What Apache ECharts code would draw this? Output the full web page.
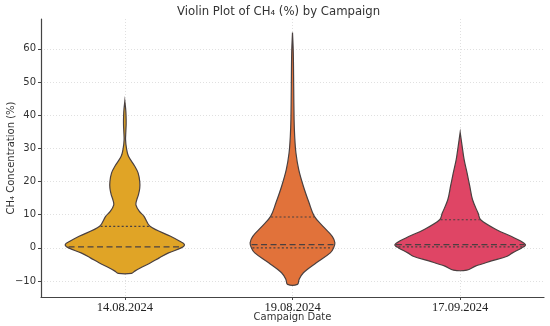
<!DOCTYPE html>
<html><head><meta charset="utf-8">
<script src="https://cdn.jsdelivr.net/npm/echarts@6/dist/echarts.min.js"></script>
<style>html,body{margin:0;padding:0;background:#fff}#c{width:550px;height:326px}</style>
</head><body><div id="c"></div>
<script>
const categories = ['14.08.2024', '19.08.2024', '17.09.2024'];
const yTicks = [-10, 0, 10, 20, 30, 40, 50, 60];

// Violin profiles: CH4 value (%) and relative kernel density
const v1Values  = [44.2, 42, 40, 37.6, 35, 32.6, 30, 27.6, 24.6, 22.6, 20, 18, 16, 14.5, 13, 11, 9.5, 6.5, 3.5, 2, 1.0, 0, -1.5, -3, -4.5, -6, -7.0, -7.7];
const v1Density = [0, 0.012, 0.018, 0.02, 0.015, 0.011, 0.025, 0.055, 0.15, 0.2, 0.225, 0.225, 0.205, 0.18, 0.167, 0.22, 0.29, 0.38, 0.69, 0.83, 0.9, 0.85, 0.66, 0.52, 0.39, 0.24, 0.15, 0.1];

const v2Values  = [64.9, 58.7, 48.7, 38.6, 33.6, 28.6, 23.6, 18.6, 13.6, 9.5, 6.5, 3.5, 1.5, 0, -1.5, -4.5, -7.5, -9.5, -11];
const v2Density = [0, 0.012, 0.018, 0.024, 0.033, 0.052, 0.094, 0.164, 0.25, 0.33, 0.46, 0.6, 0.64, 0.62, 0.57, 0.36, 0.165, 0.1, 0.075];

const v3Values  = [34.8, 30.6, 26.6, 22.6, 18.6, 14.5, 10.5, 8.5, 5.5, 3.0, 1.0, 0, -1.5, -2.5, -4.0, -5.5, -6.7];
const v3Density = [0, 0.03, 0.06, 0.104, 0.145, 0.187, 0.27, 0.31, 0.55, 0.82, 0.985, 0.93, 0.79, 0.71, 0.46, 0.23, 0.1];

const q1Values     = [null, 0.0, 0.3];
const medianValues = [0.3, 1.0, 1.0];
const q3Values     = [6.5, 9.3, 8.5];

const fillColors = ['#E0A426', '#E1723A', '#DF4565'];

const profVals = [v1Values, v2Values, v3Values];
const profDens = [v1Density, v2Density, v3Density];

function densAt(vals, dens, q) {
  for (let j = 0; j < vals.length - 1; j++) {
    const a = vals[j], b = vals[j + 1];
    if ((q <= a && q >= b)) {
      const t = (a - q) / (a - b);
      return dens[j] + t * (dens[j + 1] - dens[j]);
    }
  }
  return 0;
}

function renderItem(params, api) {
  const i = api.value(0);
  const vals = profVals[i], dens = profDens[i];
  const band = api.size([1, 0])[0];
  const k = band * 0.395;
  const right = [], left = [];
  for (let j = 0; j < vals.length; j++) {
    const c = api.coord([i, vals[j]]);
    right.push([c[0] + dens[j] * k, c[1]]);
    left.push([c[0] - dens[j] * k, c[1]]);
  }
  const pts = right.concat(left.reverse());
  const children = [{
    type: 'polygon',
    shape: { points: pts, smooth: 0.35 },
    style: { fill: fillColors[i], stroke: '#4a4040', lineWidth: 1.2 }
  }];
  const lineDefs = [
    [q1Values[i], [2, 2.2]],
    [q3Values[i], [2, 2.2]],
    [medianValues[i], [6, 3.5]]
  ];
  lineDefs.forEach(function (d) {
    if (d[0] === null) return;
    const c = api.coord([i, d[0]]);
    const h = densAt(vals, dens, d[0]) * k - 1;
    children.push({
      type: 'line',
      shape: { x1: c[0] - h, y1: c[1], x2: c[0] + h, y2: c[1] },
      style: { stroke: '#4a4040', lineWidth: 1.1, lineDash: d[1] }
    });
  });
  return { type: 'group', children: children };
}

const chart = echarts.init(document.getElementById('c'), null, { renderer: 'canvas' });
chart.setOption({
  backgroundColor: '#fff',
  animation: false,
  title: {
    text: 'Violin Plot of CH\u2084 (%) by Campaign',
    left: 172, top: 1,
    textStyle: { fontFamily: 'DejaVu Sans', fontSize: 11.7, fontWeight: 'normal', color: '#333' }
  },
  grid: { left: 41, right: 6, top: 19, bottom: 29, containLabel: false, outerBoundsMode: 'none' },
  xAxis: {
    type: 'value', min: -0.5, max: 2.5,
    name: 'Campaign Date', nameLocation: 'middle', nameGap: 15, nameMoveOverlap: false,
    nameTextStyle: { fontFamily: 'DejaVu Sans', fontSize: 10, color: '#333' },
    axisLine: { show: true, onZero: false, lineStyle: { color: '#444', width: 1.2 } },
    axisTick: { show: true, length: 3, customValues: [0, 1, 2], lineStyle: { color: '#444' } },
    axisLabel: {
      customValues: [0, 1, 2], margin: 4,
      formatter: function (v) { return categories[Math.round(v)]; },
      fontFamily: 'Liberation Serif', fontSize: 12.5, color: '#222'
    },
    splitLine: { show: true, lineStyle: { color: '#d8d8d8', type: [1, 2], width: 0.8 } }
  },
  yAxis: {
    type: 'value', min: -14.8, max: 69.0,
    name: 'CH\u2084 Concentration (%)', nameLocation: 'middle', nameGap: 25, nameMoveOverlap: false,
    nameTextStyle: { fontFamily: 'DejaVu Sans', fontSize: 10, color: '#333' },
    axisLine: { show: true, onZero: false, lineStyle: { color: '#444', width: 1.2 } },
    axisTick: { show: true, length: 3, customValues: yTicks, lineStyle: { color: '#444' } },
    axisLabel: {
      customValues: yTicks, margin: 5,
      formatter: function (v) { return v < 0 ? '\u2212' + Math.abs(v) : String(v); },
      fontFamily: 'DejaVu Sans', fontSize: 10, color: '#333'
    },
    splitLine: { show: true, lineStyle: { color: '#d8d8d8', type: [1, 2], width: 0.8 } }
  },
  series: [{
    type: 'custom',
    renderItem: renderItem,
    clip: false,
    encode: { x: 0 },
    data: [[0], [1], [2]]
  }]
});
</script>
</body></html>
